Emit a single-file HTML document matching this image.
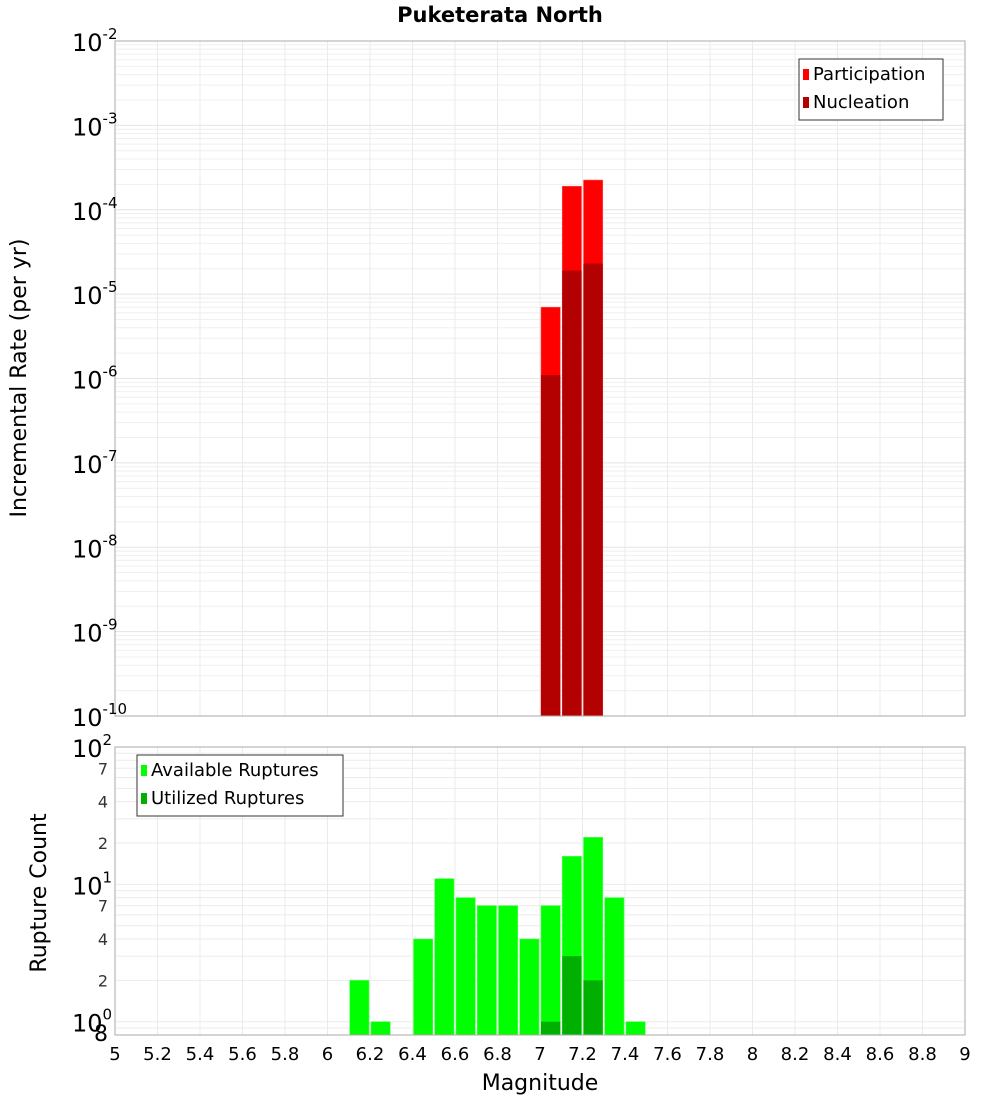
<!DOCTYPE html>
<html><head><meta charset="utf-8"><style>
body{margin:0;background:#fff;font-family:"Liberation Sans","DejaVu Sans",sans-serif}
svg text{font-family:"DejaVu Sans","Liberation Sans",sans-serif}
</style></head><body>
<svg id="c" width="1000" height="1100" xmlns="http://www.w3.org/2000/svg">
<text x="500" y="22" text-anchor="middle" font-size="21" font-weight="bold">Puketerata North</text>
<text transform="translate(26,378) rotate(-90)" text-anchor="middle" font-size="22">Incremental Rate (per yr)</text>
<text transform="translate(46,893) rotate(-90)" text-anchor="middle" font-size="22">Rupture Count</text>
<text x="540" y="1090" text-anchor="middle" font-size="22">Magnitude</text>
<g id="g"></g>
</svg>
<script>
const magBins=[7.05,7.15,7.25];
const participation=[7.0e-6,1.9e-4,2.25e-4];
const nucleation=[1.1e-6,1.9e-5,2.3e-5];
const ruptureMags=[6.15,6.25,6.45,6.55,6.65,6.75,6.85,6.95,7.05,7.15,7.25,7.35,7.45];
const available=[2,1,4,11,8,7,7,4,7,16,22,8,1];
const utilMags=[7.05,7.15,7.25];
const utilized=[1,3,2];
const xTicks=[5,5.2,5.4,5.6,5.8,6,6.2,6.4,6.6,6.8,7,7.2,7.4,7.6,7.8,8,8.2,8.4,8.6,8.8,9];
const topExps=[-10,-9,-8,-7,-6,-5,-4,-3,-2];
const botMinor=[2,4,7,20,40,70];

const NS="http://www.w3.org/2000/svg";
const g=document.getElementById('g');
function el(t,a,txt){const e=document.createElementNS(NS,t);for(const k in a)e.setAttribute(k,a[k]);if(txt!==undefined)e.textContent=txt;g.appendChild(e);return e;}
const X0=115,X1=965;
const xs=m=>X0+(m-5)/4*(X1-X0);
const T0=41,T1=716;
const yT=v=>T0+(-2-Math.log10(v))/8*(T1-T0);
const B0=747,B1=1035;
const yB=v=>B0+(2-Math.log10(v))/(2-Math.log10(0.8))*(B1-B0);
const bw=(xs(5.1)-xs(5))-2;

// grids top
for(let e=-10;e<-2;e++)for(let k=1;k<10;k++){const y=yT(k*Math.pow(10,e));const l=el('line',{x1:X0,x2:X1,y1:y,y2:y,stroke:k==1?'#e4e4e4':'#efefef','stroke-width':1});}
for(const t of xTicks){const l=el('line',{x1:xs(t),x2:xs(t),y1:T0,y2:T1,stroke:'#ebebeb'});
const l2=el('line',{x1:xs(t),x2:xs(t),y1:B0,y2:B1,stroke:'#ebebeb'});}
for(const e of [0,1])for(let k=1;k<10;k++){const v=k*Math.pow(10,e);const y=yB(v);const l=el('line',{x1:X0,x2:X1,y1:y,y2:y,stroke:'#ebebeb'});}
{const y=yB(0.9);const l=el('line',{x1:X0,x2:X1,y1:y,y2:y,stroke:'#ebebeb'});}

// top bars
magBins.forEach((m,i)=>{
const r=el('rect',{x:xs(m-0.05)+1,y:yT(participation[i]),width:bw,height:T1-yT(participation[i]),fill:'#ff0000',stroke:'#ff5555','stroke-width':0.6});

const n=el('rect',{x:xs(m-0.05)+1,y:yT(nucleation[i]),width:bw,height:T1-yT(nucleation[i]),fill:'#b30000'});
});
// bottom bars
ruptureMags.forEach((m,i)=>{const r=el('rect',{x:xs(m-0.05)+1,y:yB(available[i]),width:bw,height:B1-yB(available[i]),fill:'#00ff00',stroke:'#55ff55','stroke-width':0.6});
});
utilMags.forEach((m,i)=>{const r=el('rect',{x:xs(m-0.05)+1,y:yB(utilized[i]),width:bw,height:B1-yB(utilized[i]),fill:'#00b000'});
});

// frames
{const a=el('rect',{x:X0,y:T0,width:X1-X0,height:T1-T0,fill:'none',stroke:'#aaa'});
const b=el('rect',{x:X0,y:B0,width:X1-X0,height:B1-B0,fill:'none',stroke:'#aaa'});}

// top y labels
for(const e of topExps){const y=yT(Math.pow(10,e));const t=el('text',{x:72,y:y+10,'font-size':24});
t.textContent='10';const s=document.createElementNS(NS,'tspan');s.setAttribute('dy','-12');s.setAttribute('font-size','15');s.textContent=e;t.appendChild(s);}
// bottom y labels
for(const e of [0,1,2]){const y=yB(Math.pow(10,e));const t=el('text',{x:72,y:y+10,'font-size':24});
t.textContent='10';const s=document.createElementNS(NS,'tspan');s.setAttribute('dy','-12');s.setAttribute('font-size','15');s.textContent=e;t.appendChild(s);}
for(const v of botMinor){const t=el('text',{x:108,y:yB(v)+6,'font-size':16,'text-anchor':'end',fill:'#333'},String(v).charAt(0));}
{const t=el('text',{x:108,y:yB(0.8)+6,'font-size':22,'text-anchor':'end'},'8');}
// x labels
for(const v of xTicks){const t=el('text',{x:xs(v),y:1060,'font-size':18,'text-anchor':'middle'},String(v));}

// legends
function legend(x,y,w,items,name){const r=el('rect',{x:x,y:y,width:w,height:28*items.length+5,fill:'#fff',stroke:'#333'});
items.forEach((it,i)=>{const s=el('rect',{x:x+4,y:y+10+i*28,width:6,height:11,fill:it[1]});
const t=el('text',{x:x+14,y:y+21+i*28,'font-size':18},it[0]);});}
legend(799,59,144,[['Participation','#ff0000'],['Nucleation','#b30000']],'top-legend');
legend(137,755,206,[['Available Ruptures','#00ff00'],['Utilized Ruptures','#00b000']],'bottom-legend');
</script>
</body></html>
